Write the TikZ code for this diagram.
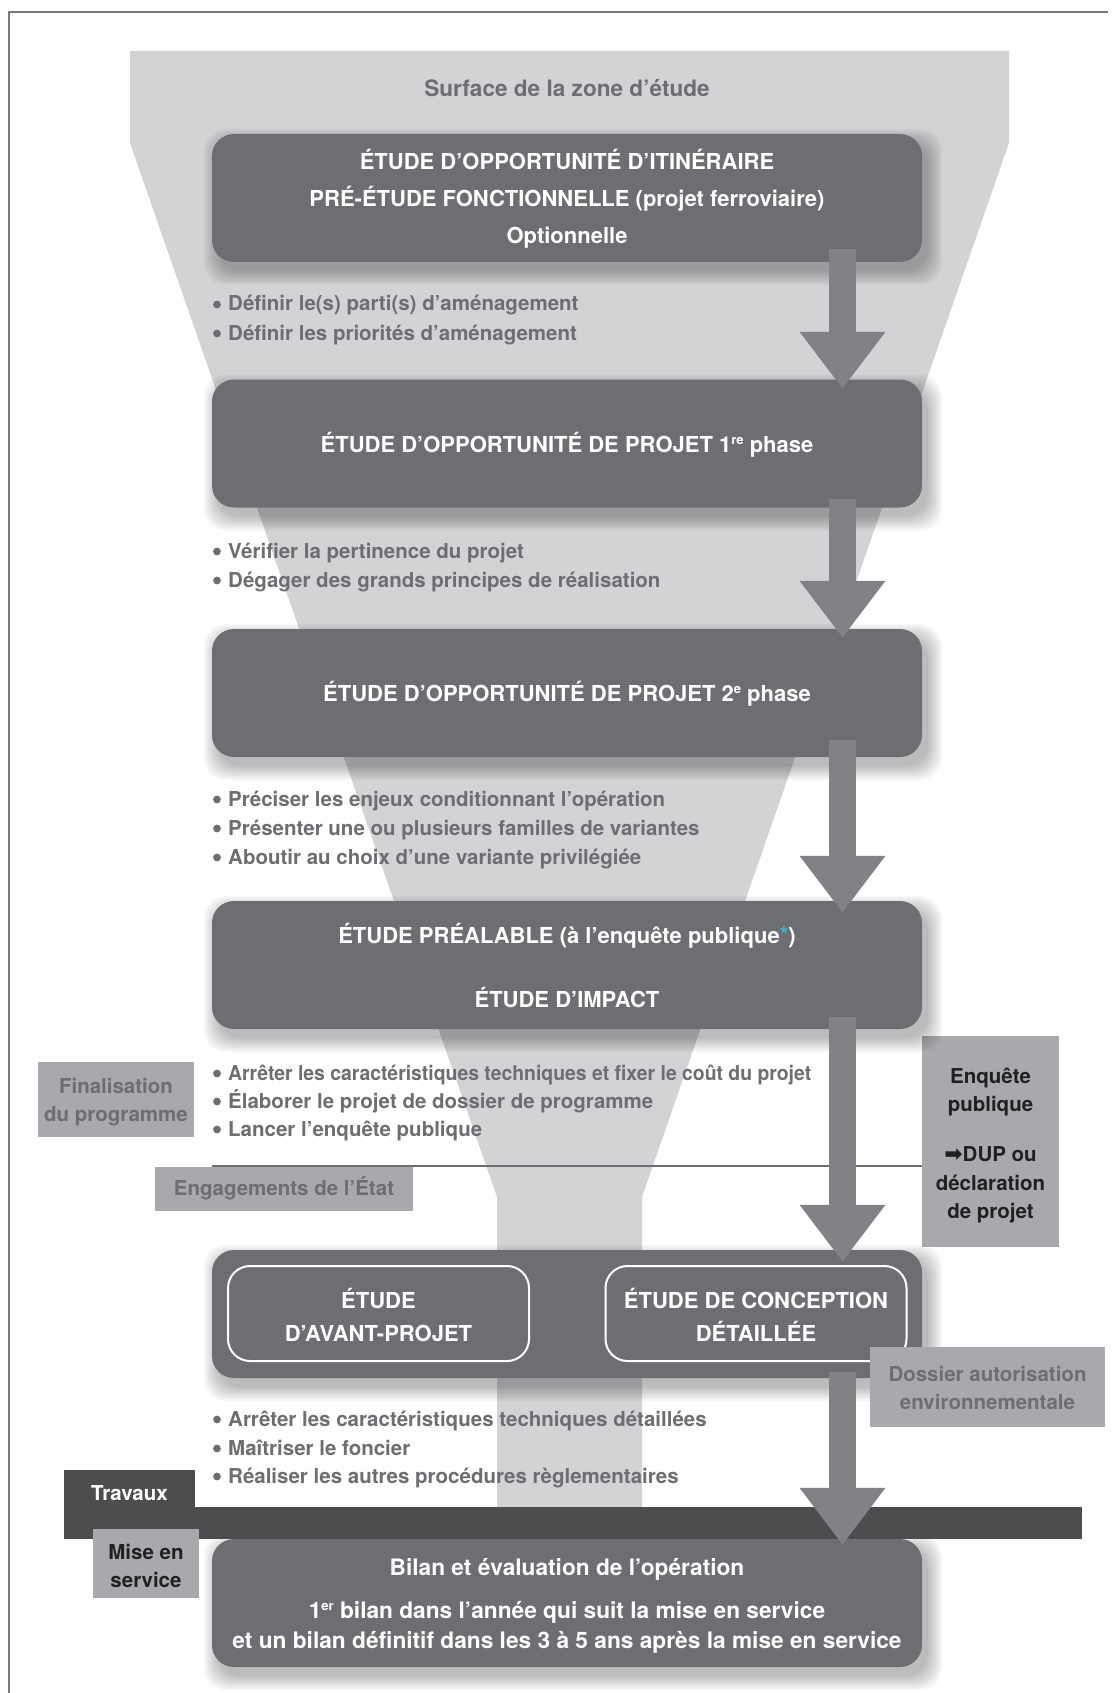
\documentclass[tikz,border=0pt]{standalone}
\usepackage{fontspec}
\usepackage{graphicx}
\setmainfont{TeX Gyre Heros}
\newfontfamily\symfont{DejaVu Sans}
\usetikzlibrary{arrows.meta}
\definecolor{boxgray}{HTML}{6D6E71}
\definecolor{arrowgray}{HTML}{808285}
\definecolor{funnelgray}{HTML}{D1D3D4}
\definecolor{labelgray}{HTML}{A7A9AC}
\definecolor{bargray}{HTML}{4D4D4F}
\definecolor{txtgray}{HTML}{6D6E71}
\definecolor{txtdark}{HTML}{231F20}
\definecolor{framegray}{HTML}{7A7B7D}
\definecolor{astcyan}{HTML}{3FB4D0}
\newcommand\boxshadow[2]{%
  \foreach \e in {0,2,...,14}{%
    \fill[black,opacity=0.035,rounded corners=22pt]
      ({#1-355-\e+6},{#2-64-\e+9}) rectangle ({#1+355+\e+6},{#2+64+\e+9});
  }}
\newcommand\bul{\hspace*{16pt}}
\newcommand\sups[1]{\raisebox{8pt}{\fontsize{13}{13}\selectfont #1}}
\begin{document}
\begin{tikzpicture}[x=1pt,y=-1pt,
  mainbox/.style={fill=boxgray, rounded corners=22pt, minimum width=710pt, minimum height=128pt, inner sep=0pt, draw=none},
  innerbox/.style={draw=white, line width=2pt, fill=boxgray, rounded corners=22pt, minimum width=301pt, minimum height=95pt, inner sep=0pt},
  boxtxt/.style={text=white, font=\bfseries\fontsize{22}{26}\selectfont, anchor=base, inner sep=0pt},
  lowtxt/.style={text=white, font=\bfseries\fontsize{22.7}{26}\selectfont, anchor=base, inner sep=0pt},
  bullettxt/.style={text=txtgray, font=\bfseries\fontsize{20.5}{24}\selectfont, anchor=base west, inner sep=0pt},
  sidebox/.style={fill=labelgray, inner sep=0pt, draw=none},
  sidetxt/.style={font=\bfseries\fontsize{20.5}{24}\selectfont, anchor=base, inner sep=0pt},
  bigarrow/.style={draw=arrowgray, line width=27pt, -{Triangle[length=57pt,width=82pt]}},
]
\useasboundingbox (0,0) rectangle (1116,1693);
\fill[white] (0,0) rectangle (1116,1693);
% frame
\draw[framegray, line width=2pt] (8.5,1693) -- (8.5,12.5) -- (1108,12.5);
% funnel
\fill[funnelgray] (130,51) -- (1009,51) -- (1009,143) -- (642,1197) -- (642,1508)
  -- (497,1508) -- (497,1197) -- (130,143) -- cycle;
\node[text=txtgray, font=\bfseries\fontsize{22.6}{26}\selectfont, anchor=base, inner sep=0pt] (surf) at (567,97) {Surface de la zone d’étude};

% bullets
\node[bullettxt] (p1a) at (212,311) {\bul Définir le(s) parti(s) d’aménagement};
\node[bullettxt] (p1b) at (212,340) {\bul Définir les priorités d’aménagement};
\node[bullettxt] (p2a) at (212,558) {\bul Vérifier la pertinence du projet};
\node[bullettxt] (p2b) at (212,587) {\bul Dégager des grands principes de réalisation};
\node[bullettxt] (p3a) at (212,806) {\bul Préciser les enjeux conditionnant l’opération};
\node[bullettxt] (p3b) at (212,835) {\bul Présenter une ou plusieurs familles de variantes};
\node[bullettxt] (p3c) at (212,864) {\bul Aboutir au choix d’une variante privilégiée};
\node[bullettxt] (p4a) at (212,1080) {\bul\scalebox{0.945}[1]{Arrêter les caractéristiques techniques et fixer le coût du projet}};
\node[bullettxt] (p4b) at (212,1108) {\bul Élaborer le projet de dossier de programme};
\node[bullettxt] (p4c) at (212,1136) {\bul Lancer l’enquête publique};
\node[bullettxt] (p5a) at (212,1426) {\bul Arrêter les caractéristiques techniques détaillées};
\node[bullettxt] (p5b) at (212,1455) {\bul Maîtriser le foncier};
\node[bullettxt] (p5c) at (212,1483) {\bul Réaliser les autres procédures règlementaires};
\foreach \n in {p1a,p1b,p2a,p2b,p3a,p3b,p3c,p4a,p4b,p4c,p5a,p5b,p5c}
  \fill[txtgray] ([xshift=5pt,yshift=6.5pt]\n.base west) circle (3.9pt);

% side box Enquete (needed for line end)
\node[sidebox, minimum width=137pt, minimum height=211pt] (enq) at (990.5,1141.5) {};
\coordinate (lstart) at (212,1166);
\draw[boxgray, line width=2.5pt] (lstart) -- (lstart -| enq.west);

% shadows + boxes
\boxshadow{567}{198}
\boxshadow{567}{443.5}
\boxshadow{567}{693}
\boxshadow{567}{965}
\boxshadow{567}{1314}
\boxshadow{567}{1603}
\node[mainbox] (b1) at (567,198) {};
\node[mainbox] (b2) at (567,443.5) {};
\node[mainbox] (b3) at (567,693) {};
\node[mainbox] (b4) at (567,965) {};
\node[mainbox] (b5) at (567,1314) {};
\node[mainbox] (b6) at (567,1603) {};
\node[innerbox] (b5l) at (378.5,1313.5) {};
\node[innerbox] (b5r) at (756,1313.5) {};

% box texts
\node[boxtxt] (t1a) at (567,170) {ÉTUDE D’OPPORTUNITÉ D’ITINÉRAIRE};
\node[boxtxt] (t1b) at (567,207) {PRÉ-ÉTUDE FONCTIONNELLE (projet ferroviaire)};
\node[boxtxt] (t1c) at (567,244) {Optionnelle};
\node[boxtxt] (t2) at (567,452) {ÉTUDE D’OPPORTUNITÉ DE PROJET 1\sups{re} phase};
\node[boxtxt] (t3) at (567,701) {ÉTUDE D’OPPORTUNITÉ DE PROJET 2\sups{e} phase};
\node[boxtxt] (t4a) at (567,943) {ÉTUDE PRÉALABLE (à l’enquête publique\raisebox{1pt}{\textcolor{astcyan}{*}})};
\node[boxtxt] (t4b) at (567,1007) {ÉTUDE D’IMPACT};
\node[boxtxt] (t5a) at (378.5,1308) {ÉTUDE};
\node[boxtxt] (t5b) at (378.5,1341) {D’AVANT-PROJET};
\node[boxtxt] (t5c) at (756,1308) {ÉTUDE DE CONCEPTION};
\node[boxtxt] (t5d) at (756,1341) {DÉTAILLÉE};
\node[lowtxt] (t6a) at (567,1575) {Bilan et évaluation de l’opération};
\node[lowtxt] (t6b) at (567,1618) {1\sups{er} bilan dans l’année qui suit la mise en service};
\node[lowtxt] (t6c) at (567,1648) {et un bilan définitif dans les 3 à 5 ans après la mise en service};

% side labels
\node[sidebox, minimum width=156pt, minimum height=75pt] (fin) at (116,1099.5) {};
\node[sidetxt, text=txtgray] (fin1) at (116,1093) {Finalisation};
\node[sidetxt, text=txtgray] (fin2) at (116,1121) {du programme};
\node[sidebox, minimum width=258pt, minimum height=44pt] (eng) at (284,1189) {};
\node[sidetxt, text=txtgray] (eng1) at (284,1195) {Engagements de l’État};
\node[sidetxt, text=txtdark] (enq1) at (990.5,1083) {Enquête};
\node[sidetxt, text=txtdark] (enq2) at (990.5,1111) {publique};
\node[sidetxt, text=txtdark] (enq3) at (990.5,1161) {{\symfont\bfseries\fontsize{22}{22}\selectfont ➡}DUP ou};
\node[sidetxt, text=txtdark] (enq4) at (990.5,1190) {déclaration};
\node[sidetxt, text=txtdark] (enq5) at (990.5,1218) {de projet};
\node[sidebox, minimum width=235pt, minimum height=80pt] (dos) at (987.5,1387) {};
\node[sidetxt, text=txtgray] (dos1) at (987.5,1381) {Dossier autorisation};
\node[sidetxt, text=txtgray] (dos2) at (987.5,1409) {environnementale};

% travaux bar
\node[fill=bargray, minimum width=131pt, minimum height=38pt, inner sep=0pt] (trav) at (129.5,1489) {};
\node[fill=bargray, minimum width=1018pt, minimum height=32pt, inner sep=0pt] (bar) at (573,1523) {};
\node[sidetxt, text=white] (trav1) at (129.5,1500) {Travaux};

% arrows
\coordinate (ax) at (842.5,0);
\draw[bigarrow] ([yshift=13pt]b1.south -| ax) -- ([yshift=-9.5pt]b2.north -| ax);
\draw[bigarrow] ([yshift=9pt]b2.south -| ax) -- ([yshift=-9pt]b3.north -| ax);
\draw[bigarrow] ([yshift=17pt]b3.south -| ax) -- ([yshift=-12pt]b4.north -| ax);
\draw[bigarrow] ([yshift=12pt]b4.south -| ax) -- ([yshift=-12pt]b5.north -| ax);
\draw[bigarrow] ([yshift=6pt]b5.south -| ax) -- ([yshift=-6pt]b6.north -| ax);

% mise en service
\node[sidebox, minimum width=106pt, minimum height=69pt] (mes) at (146,1563.5) {};
\node[sidetxt, text=txtdark] (mes1) at (146,1559) {Mise en};
\node[sidetxt, text=txtdark] (mes2) at (146,1587) {service};
\end{tikzpicture}
\end{document}
